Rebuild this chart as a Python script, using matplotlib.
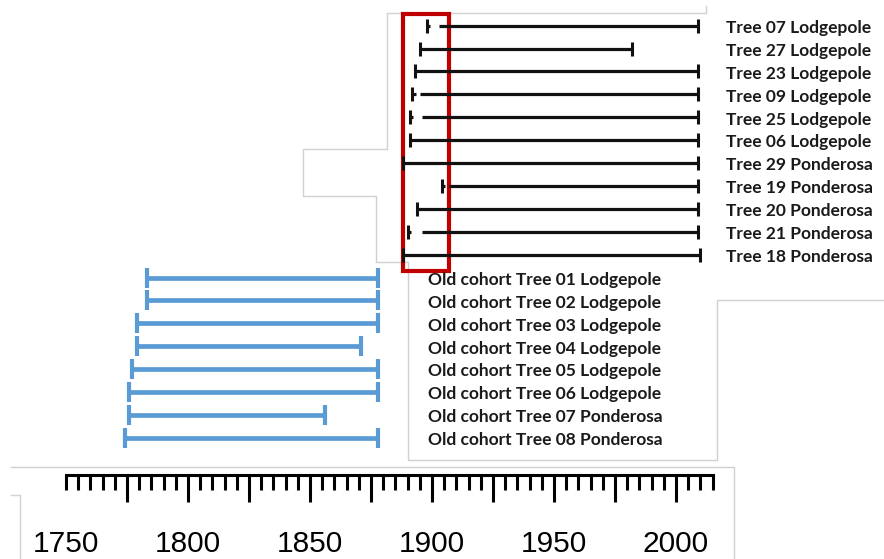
import numpy as np
import matplotlib
matplotlib.use('Agg')
import matplotlib.pyplot as plt
from matplotlib.patches import Rectangle
from matplotlib.ticker import FixedLocator, FuncFormatter

# young cohort: first year (cap), start of continuous series, last year
young_names = ['Tree 07 Lodgepole', 'Tree 27 Lodgepole', 'Tree 23 Lodgepole',
               'Tree 09 Lodgepole', 'Tree 25 Lodgepole', 'Tree 06 Lodgepole',
               'Tree 29 Ponderosa', 'Tree 19 Ponderosa', 'Tree 20 Ponderosa',
               'Tree 21 Ponderosa', 'Tree 18 Ponderosa']
young_first = [1898, 1895, 1893, 1892, 1891, 1891, 1888, 1904, 1894, 1890, 1888]
young_start = [1903, 1895, 1893, 1895, 1896, 1891, 1888, 1907, 1894, 1896, 1888]
young_end = [2009, 1982, 2009, 2009, 2009, 2009, 2009, 2009, 2009, 2009, 2010]

# old cohort
old_names = ['Old cohort Tree 01 Lodgepole', 'Old cohort Tree 02 Lodgepole',
             'Old cohort Tree 03 Lodgepole', 'Old cohort Tree 04 Lodgepole',
             'Old cohort Tree 05 Lodgepole', 'Old cohort Tree 06 Lodgepole',
             'Old cohort Tree 07 Ponderosa', 'Old cohort Tree 08 Ponderosa']
old_start = [1783, 1783, 1779, 1779, 1777, 1776, 1776, 1774]
old_end = [1878, 1878, 1878, 1871, 1878, 1878, 1856, 1878]

# highlighted window
box_years = (1888, 1907)

# ruler
ruler_min, ruler_max = 1750, 2015
major_years = list(range(1750, 2001, 25))
minor_years = [y for y in range(1750, 2016, 5) if y not in major_years]

W, H = 884, 559
px_per_year = 2.44
x0_px = 66
row0_px, row_px = 25.7, 22.9

fig = plt.figure(figsize=(W / 100, H / 100), dpi=100)

# pixel overlay for the frame outlines of the pasted panels
bg = fig.add_axes([0, 0, 1, 1])
bg.set_xlim(0, W)
bg.set_ylim(H, 0)
bg.axis('off')
frame_col = '#d0d0d0'
bg.plot([706, 706, 387, 387, 303, 303, 376, 376, 408, 408, 717, 717, 884],
        [6, 13, 13, 149, 149, 196, 196, 262, 262, 460, 460, 300, 300],
        color=frame_col, lw=1)
bg.plot([11, 734, 734], [467, 467, 559], color=frame_col, lw=1)
bg.plot([11, 20, 20], [495, 495, 559], color=frame_col, lw=1)

ax = fig.add_axes([0, 0, 1, 1], facecolor='none')
xlo = 1750 - x0_px / px_per_year
xhi = 1750 + (W - x0_px) / px_per_year
ax.set_xlim(xlo, xhi)
ax.set_ylim((H - row0_px) / row_px, -row0_px / row_px)
ax.axis('off')

blk = '#111111'
for i, name in enumerate(young_names):
    f, s, e = young_first[i], young_start[i], young_end[i]
    ax.plot([s, e], [i, i], color=blk, lw=2.3, solid_capstyle='butt')
    if s > f:
        ax.plot([f, f + 1.3], [i, i], color=blk, lw=2.3, solid_capstyle='butt')
    ax.plot([f, e], [i, i], ls='none', marker='|', ms=10, mew=2.2, color=blk)
    ax.text(2020.5, i + 0.1, name, ha='left', va='center', fontsize=12.5,
            fontweight='bold', family='Lato', color='#1a1a1a')

blue = '#5b9bd5'
n0 = len(young_names)
for j, name in enumerate(old_names):
    r = n0 + j
    ax.plot([old_start[j], old_end[j]], [r, r], color=blue, lw=3.4,
            solid_capstyle='butt')
    ax.plot([old_start[j], old_end[j]], [r, r], ls='none', marker='|',
            ms=14, mew=3, color=blue)
    ax.text(1898.4, r + 0.1, name, ha='left', va='center', fontsize=12.5,
            fontweight='bold', family='Lato', color='#1a1a1a')

ax.add_patch(Rectangle((box_years[0], -0.51), box_years[1] - box_years[0], 11.22,
                       fill=False, edgecolor='#c00000', lw=3))

# ruler
rul = fig.add_axes([0, (H - 475) / H, 1, 0.0001], facecolor='none')
rul.set_xlim(xlo, xhi)
for sp in ['top', 'left', 'right']:
    rul.spines[sp].set_visible(False)
rul.spines['bottom'].set_bounds(ruler_min, ruler_max)
rul.spines['bottom'].set_linewidth(2.2)
rul.set_yticks([])
rul.xaxis.set_major_locator(FixedLocator(major_years))
rul.xaxis.set_minor_locator(FixedLocator(minor_years))
rul.xaxis.set_major_formatter(FuncFormatter(lambda v, p: '%d' % v if int(round(v)) % 50 == 0 else ''))
rul.tick_params(axis='x', which='major', length=19.5, width=2.2, pad=20,
                labelsize=21.5, color='black')
rul.tick_params(axis='x', which='minor', length=11, width=2.2, color='black')
for lab in rul.get_xticklabels():
    lab.set_family('Liberation Sans')
for t in rul.xaxis.get_major_ticks():
    if t.get_loc() == 1750:
        t.tick1line.set_markersize(11)

fig.savefig('out.png', dpi=100)
